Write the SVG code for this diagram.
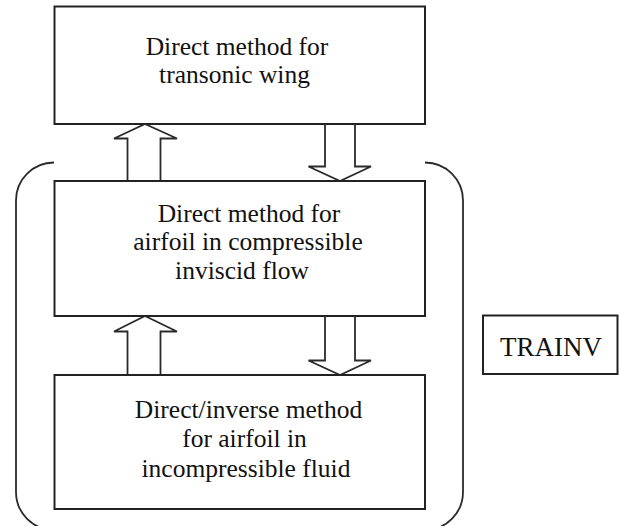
<svg xmlns="http://www.w3.org/2000/svg" width="620" height="526" viewBox="0 0 620 526">
  <style>
    .box { fill: #ffffff; stroke: #222222; stroke-width: 2; }
    .arrow { fill: #ffffff; stroke: #2a2a2a; stroke-width: 1.8; stroke-linejoin: miter; }
    .bracket { fill: none; stroke: #2a2a2a; stroke-width: 1.8; }
    .t { font-family: "Liberation Serif", "Times New Roman", serif; font-size: 25.5px; fill: #111111; text-anchor: middle; }
    .big { font-size: 27px; }
  </style>
  <rect width="620" height="526" fill="#ffffff"/>

  <g id="bracket">
    <path class="bracket" d="M 54 162.5 A 38 38 0 0 0 16 200.5 L 16 492 A 38 38 0 0 0 54 530"/>
    <path class="bracket" d="M 425 162.5 A 38 38 0 0 1 463 200.5 L 463 492 A 38 38 0 0 1 425 530"/>
  </g>

  <g id="connectors">
    <!-- up arrow: middle -> top -->
    <polygon class="arrow" points="127.5,181 127.5,138.5 114,138.5 145,124 177,138.5 160.5,138.5 160.5,181"/>
    <!-- down arrow: top -> middle -->
    <polygon class="arrow" points="325,124 355,124 355,166.5 371,166.5 340,181 308.5,166.5 325,166.5"/>
    <!-- up arrow: bottom -> middle -->
    <polygon class="arrow" points="127.5,375 127.5,331.5 114,331.5 145,316 177,331.5 160.5,331.5 160.5,375"/>
    <!-- down arrow: middle -> bottom -->
    <polygon class="arrow" points="325,316 355,316 355,360.5 371,360.5 340,375 308.5,360.5 325,360.5"/>
  </g>

  <g id="node-top">
    <rect class="box" x="54.5" y="6.5" width="370.5" height="117.5"/>
    <text class="t" x="237" y="55">Direct method for</text>
    <text class="t" x="234.5" y="83.3">transonic wing</text>
  </g>

  <g id="node-middle">
    <rect class="box" x="54.5" y="181" width="370.5" height="135"/>
    <text class="t" x="249" y="221.7">Direct method for</text>
    <text class="t" x="248" y="250">airfoil in compressible</text>
    <text class="t" x="242" y="279.3">inviscid flow</text>
  </g>

  <g id="node-bottom">
    <rect class="box" x="54.5" y="375" width="370.5" height="134"/>
    <text class="t" x="248.5" y="418.3">Direct/inverse method</text>
    <text class="t" x="244.5" y="447.3">for airfoil in</text>
    <text class="t" x="246" y="476.7">incompressible fluid</text>
  </g>

  <g id="node-trainv">
    <rect class="box" x="483" y="315.5" width="134.5" height="58.5"/>
    <text class="t big" x="551" y="356">TRAINV</text>
  </g>
</svg>
